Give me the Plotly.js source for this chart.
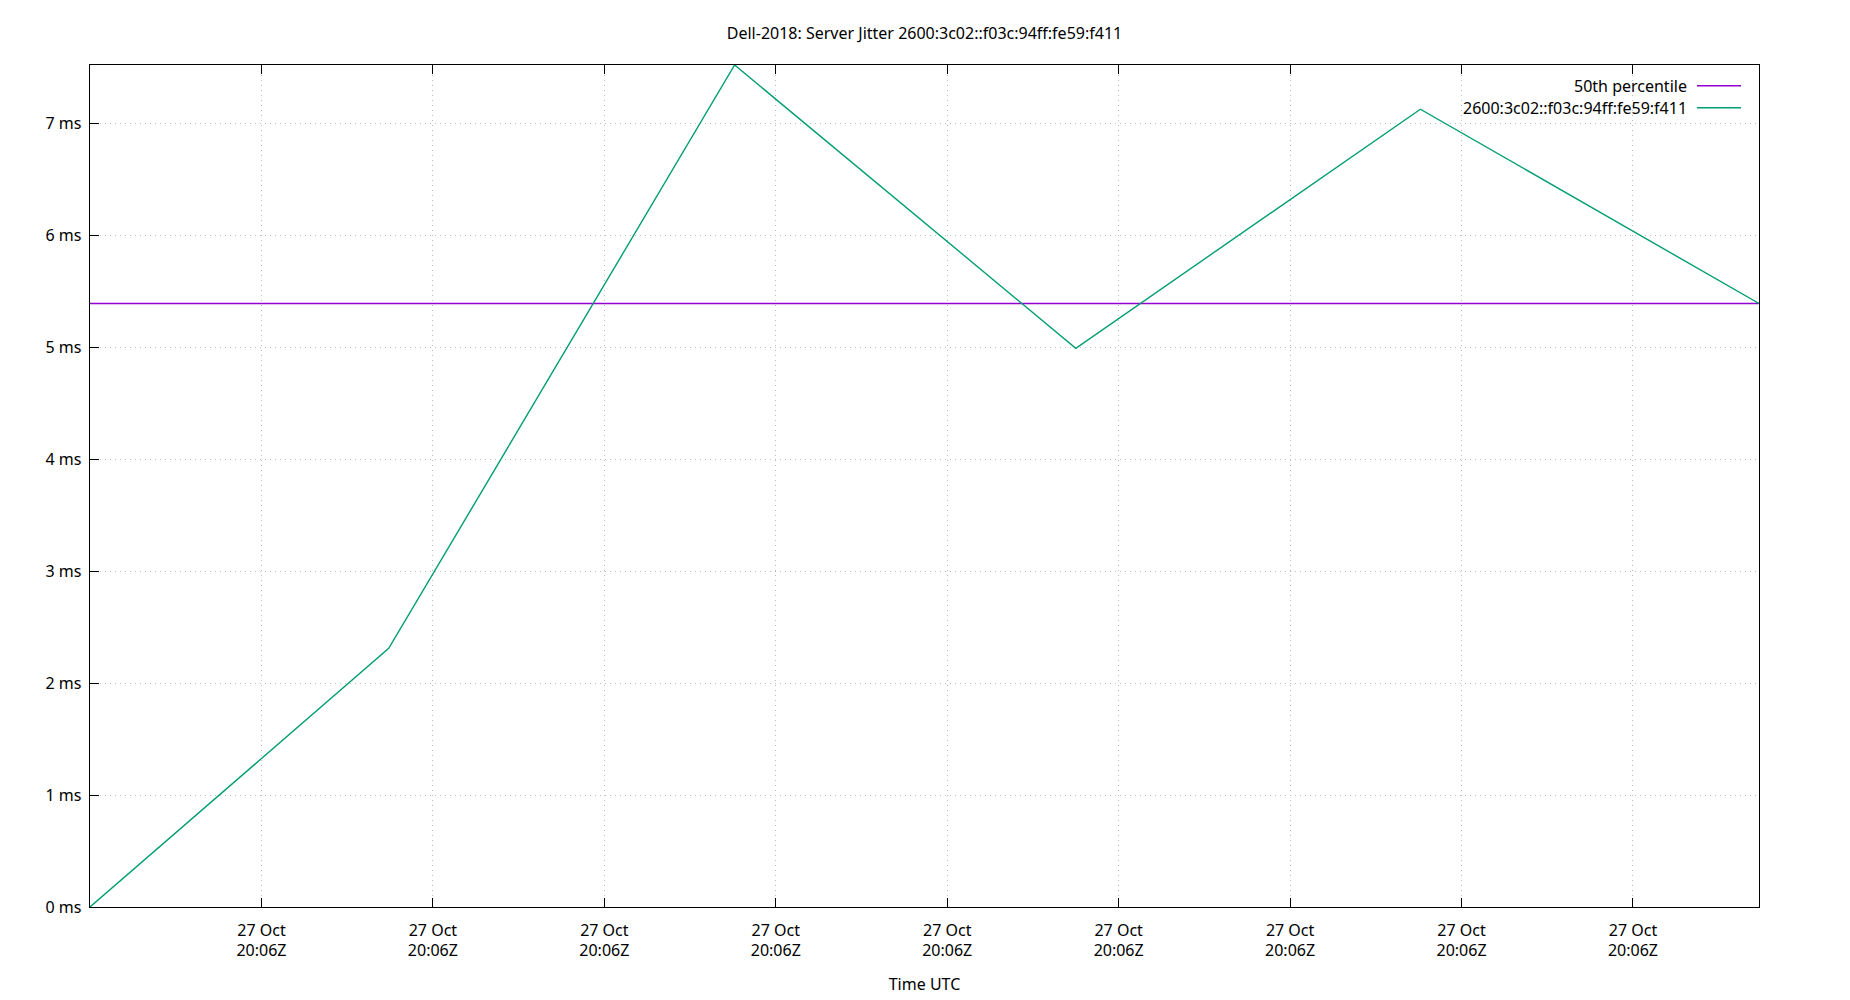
<!DOCTYPE html>
<html>
<head>
<meta charset="utf-8">
<script src="https://cdn.plot.ly/plotly-3.0.1.min.js"></script>
<style>html,body{margin:0;padding:0;background:#fff;}</style>
</head>
<body>
<div id="chart" style="width:1850px;height:1000px;"></div>
<script>
// Data
const times = [
  "2018-10-27 20:06:08.000",
  "2018-10-27 20:06:11.485",
  "2018-10-27 20:06:15.520",
  "2018-10-27 20:06:19.500",
  "2018-10-27 20:06:23.520",
  "2018-10-27 20:06:27.470"
];
const jitterMs = [0.0, 2.31, 7.52, 4.99, 7.125, 5.39];
const medianMs = 5.39;
const seriesNames = ["50th percentile", "2600:3c02::f03c:94ff:fe59:f411"];
const seriesColors = ["#9400d3", "#009e73"];
const tickTimes = [
  "2018-10-27 20:06:10", "2018-10-27 20:06:12", "2018-10-27 20:06:14",
  "2018-10-27 20:06:16", "2018-10-27 20:06:18", "2018-10-27 20:06:20",
  "2018-10-27 20:06:22", "2018-10-27 20:06:24", "2018-10-27 20:06:26"
];
const titleText = "Dell-2018: Server Jitter 2600:3c02::f03c:94ff:fe59:f411";
const xTitle = "Time UTC";

const FONT = "Noto Sans, Open Sans, DejaVu Sans, sans-serif";

const traces = [
  {
    x: [times[0], times[times.length - 1]],
    y: [medianMs, medianMs],
    mode: "lines",
    name: seriesNames[0],
    line: {color: seriesColors[0], width: 1.4},
    showlegend: false,
    hoverinfo: "skip"
  },
  {
    x: times,
    y: jitterMs,
    mode: "lines",
    name: seriesNames[1],
    line: {color: seriesColors[1], width: 1.4},
    showlegend: false
  }
];

// Legend built to mimic gnuplot (text right, sample line on the right)
const legendAnnotations = [];
const legendShapes = [];
const legTop = 85.7, legStep = 22;
seriesNames.forEach((nm, i) => {
  const yPix = legTop + i * legStep;
  const yPaper = 1 - (yPix - 65) / (907 - 65);
  const xTextPaper = (1689 - 90) / (1759 - 90);
  legendAnnotations.push({
    xref: "paper", yref: "paper", x: xTextPaper, y: yPaper,
    xanchor: "right", yanchor: "middle", showarrow: false,
    text: nm, font: {family: FONT, size: 16, color: "#000"}
  });
  legendShapes.push({
    type: "line", xref: "paper", yref: "paper",
    x0: (1697 - 90) / (1759 - 90), x1: (1741 - 90) / (1759 - 90),
    y0: yPaper, y1: yPaper,
    line: {color: seriesColors[i], width: 1.4}
  });
});

const layout = {
  width: 1850, height: 1000,
  margin: {l: 90, r: 91, t: 65, b: 93},
  paper_bgcolor: "#fff", plot_bgcolor: "#fff",
  font: {family: FONT, size: 16, color: "#000"},
  title: {
    text: titleText,
    font: {family: FONT, size: 16, color: "#000"},
    x: (90 + 1759) / 2 / 1850, xanchor: "center",
    y: 1 - 33 / 1000, yanchor: "middle"
  },
  showlegend: false,
  xaxis: {
    type: "date",
    range: [times[0], times[times.length - 1]],
    tickmode: "array",
    tickvals: tickTimes,
    tickformat: "%d %b<br>%H:%MZ",
    ticks: "inside", ticklen: 9, tickwidth: 1, tickcolor: "#000",
    showline: true, linecolor: "#000", linewidth: 1.3, mirror: "ticks",
    showgrid: true, gridcolor: "#bcbcbc", griddash: "1px,4px", gridwidth: 1,
    zeroline: false,
    ticklabelstandoff: 8,
    tickfont: {family: FONT, size: 16, color: "#000"},
    title: {text: xTitle, font: {family: FONT, size: 16, color: "#000"}, standoff: 18}
  },
  yaxis: {
    range: [0, 7.52],
    dtick: 1, tick0: 0,
    ticksuffix: " ms",
    ticks: "inside", ticklen: 9, tickwidth: 1, tickcolor: "#000",
    showline: true, linecolor: "#000", linewidth: 1.3, mirror: true,
    showgrid: true, gridcolor: "#bcbcbc", griddash: "1px,4px", gridwidth: 1,
    zeroline: false,
    ticklabelstandoff: 4,
    tickfont: {family: FONT, size: 16, color: "#000"}
  },
  annotations: legendAnnotations,
  shapes: legendShapes
};

Plotly.newPlot("chart", traces, layout, {displayModeBar: false, staticPlot: true});
</script>
</body>
</html>
